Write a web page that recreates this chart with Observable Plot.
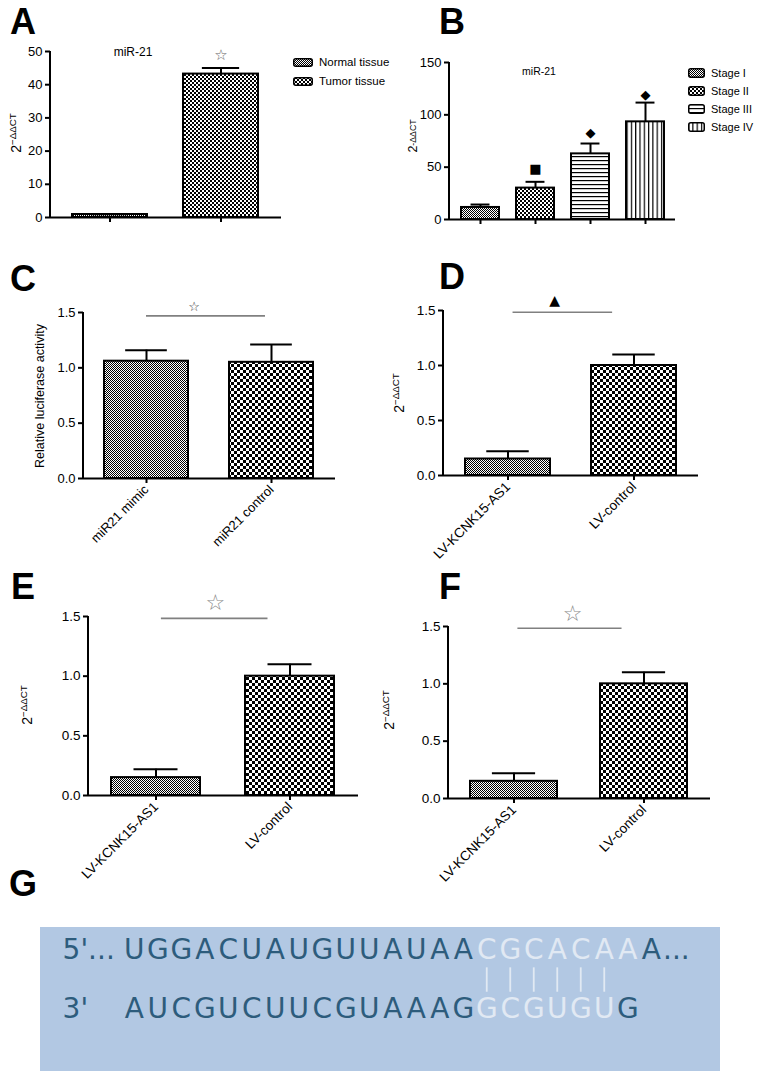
<!DOCTYPE html>
<html><head><meta charset="utf-8">
<script src="https://cdn.jsdelivr.net/npm/d3@7"></script>
<script src="https://cdn.jsdelivr.net/npm/@observablehq/plot@0.6"></script>
<style>
body{margin:0;background:#fff;}
#fig{position:relative;width:762px;height:1071px;overflow:hidden;font-family:"Liberation Sans",Arial,sans-serif;color:#000;}
.letter{position:absolute;font-weight:bold;font-size:36px;line-height:1.2;}
.lab{position:absolute;white-space:nowrap;line-height:1;transform:translate(-50%,-50%);}
.ylab{position:absolute;white-space:nowrap;line-height:1;transform:translate(-50%,-50%) rotate(-90deg);}
.ylab .sup{font-size:0.7em;position:relative;top:-0.5em;}
.ylab .sub{font-size:0.7em;position:relative;top:-0.1em;}
.leg{position:absolute;display:flex;align-items:center;white-space:nowrap;}
.leg svg{margin-right:6px;overflow:visible;}
#gbox{position:absolute;left:40px;top:927px;width:680px;height:144px;background:#b2c8e3;}
[aria-label^="x-axis"] line,[aria-label^="x-axis"] path,[aria-label^="y-axis"] line,[aria-label^="y-axis"] path{stroke-width:2px;}
</style>
</head>
<body>
<svg width="0" height="0" style="position:absolute">
<defs>
<pattern id="pGrey" patternUnits="userSpaceOnUse" width="2" height="2"><rect width="2" height="2" fill="#fff"/><rect width="1" height="1" fill="#000"/><rect x="1" y="1" width="1" height="1" fill="#000"/></pattern>
<pattern id="pCheck4" patternUnits="userSpaceOnUse" width="4" height="4"><rect width="4" height="4" fill="#000"/><rect width="2" height="2" fill="#fff"/><rect x="2" y="2" width="2" height="2" fill="#fff"/></pattern>
<pattern id="pCheck6" patternUnits="userSpaceOnUse" width="6" height="6"><rect width="6" height="6" fill="#000"/><rect width="3" height="3" fill="#fff"/><rect x="3" y="3" width="3" height="3" fill="#fff"/></pattern>
<pattern id="pHoriz" patternUnits="userSpaceOnUse" width="4" height="4"><rect width="4" height="4" fill="#fff"/><rect width="4" height="1.2" fill="#000"/></pattern>
<pattern id="pVert" patternUnits="userSpaceOnUse" width="4.3" height="4"><rect width="4.3" height="4" fill="#fff"/><rect width="1.2" height="4" fill="#000"/></pattern>
</defs>
</svg>
<div id="fig"><div id="gbox"></div></div>
<script>
// ---------------- DATA ----------------
// Panel A
const aCats = ["Normal tissue", "Tumor tissue"];
const aMeans = [0.9, 43.2];
const aUpper = [1.0, 45.0];
const aMarkCats = ["Tumor tissue"];
const aMarkY = [49];
const aMarkSym = ["☆"];
const aTicks = [0, 10, 20, 30, 40, 50];
// Panel B
const bCats = ["Stage I", "Stage II", "Stage III", "Stage IV"];
const bMeans = [11.5, 30, 62.7, 93.3];
const bUpper = [14.3, 36, 72.6, 111.7];
const bMarkCats = ["Stage II", "Stage III", "Stage IV"];
const bMarkY = [48, 83, 119];
const bMarkSym = ["■", "◆", "◆"];
const bTicks = [0, 50, 100, 150];
// Panel C
const cCats = ["miR21 mimic", "miR21 control"];
const cMeans = [1.06, 1.05];
const cUpper = [1.16, 1.21];
const cSigY = 1.465, cMarkY = 1.555, cMarkSym = "☆";
// Panel D
const dCats = ["LV-KCNK15-AS1", "LV-control"];
const dMeans = [0.15, 1.0];
const dUpper = [0.22, 1.1];
const dSigY = 1.48, dMarkY = 1.59, dMarkSym = "▲";
// Panel E
const eCats = ["LV-KCNK15-AS1", "LV-control"];
const eMeans = [0.15, 1.0];
const eUpper = [0.22, 1.1];
const eSigY = 1.48, eMarkY = 1.61, eMarkSym = "☆";
// Panel F
const fCats = ["LV-KCNK15-AS1", "LV-control"];
const fMeans = [0.15, 1.0];
const fUpper = [0.22, 1.1];
const fSigY = 1.48, fMarkY = 1.61, fMarkSym = "☆";
const relTicks = [0, 0.5, 1.0, 1.5];
// Panel G
const seq5 = "UGGACUAUGUUAUAACGCACAAA";
const seq3 = "AUCGUCUUCGUAAAGGCGUGUG";
const light5 = [15, 16, 17, 18, 19, 20, 21];
const light3 = [15, 16, 17, 18, 19, 20];
const pairIdx = [15, 16, 17, 18, 19, 20];
const prefix5 = "5'...", prefix3 = "3'", suffix5 = "...";

// ---------------- HELPERS ----------------
const fig = document.getElementById("fig");

function addDiv(cls, html, left, top, css) {
  const d = document.createElement("div");
  d.className = cls; d.innerHTML = html;
  d.style.left = left + "px"; d.style.top = top + "px";
  if (css) Object.assign(d.style, css);
  fig.appendChild(d);
  return d;
}

function barPanel(o) {
  const {box, ax} = o;
  const n = o.cats.length;
  const ml = ax.x0 - box.left, mr = box.left + box.width - ax.x1;
  const mt = ax.yTop - box.top, mb = box.top + box.height - ax.yBottom;
  const step = (ax.x1 - ax.x0) / (n - o.pi + 2 * o.po);
  const bw = step * (1 - o.pi);
  const rows = o.cats.map((c, i) => ({cat: c, m: o.means[i], u: o.upper[i]}));
  const marks = [];
  rows.forEach((r, i) => marks.push(Plot.barY([r], {x: "cat", y: "m", fill: `url(#${o.pats[i]})`, stroke: "#000", strokeWidth: 2})));
  marks.push(Plot.ruleX(rows, {x: "cat", y1: "m", y2: "u", stroke: "#000", strokeWidth: 2}));
  marks.push(Plot.tickY(rows, {x: "cat", y: "u", stroke: "#000", strokeWidth: 2, insetLeft: bw / 4, insetRight: bw / 4}));
  marks.push(Plot.ruleY([0], {stroke: "#000", strokeWidth: 2}));
  marks.push((index, scales, values, dims) =>
    d3.create("svg:line")
      .attr("x1", dims.marginLeft).attr("x2", dims.marginLeft)
      .attr("y1", scales.y(0) + 1).attr("y2", scales.y(o.ymax))
      .attr("stroke", "#000").attr("stroke-width", 2).node());
  if (o.sig) {
    marks.push((index, scales) => {
      const x = scales.x;
      const c0 = x(o.cats[0]) + x.bandwidth() / 2;
      const yy = scales.y(o.sig.y);
      return d3.create("svg:line")
        .attr("x1", c0 + o.sig.f0 * step).attr("x2", c0 + o.sig.f1 * step)
        .attr("y1", yy).attr("y2", yy)
        .attr("stroke", "#808080").attr("stroke-width", 1.6).node();
    });
  }
  if (o.markers) {
    marks.push(Plot.text(o.markers, {
      x: "cat", y: "y", text: "s", dx: (o.markDx || 0) * step,
      fontSize: o.markSize, fill: o.markColor, fontFamily: "DejaVu Sans"
    }));
  }
  const svg = Plot.plot({
    width: box.width, height: box.height,
    marginLeft: ml, marginRight: mr, marginTop: mt, marginBottom: mb,
    style: {position: "absolute", left: box.left + "px", top: box.top + "px", background: "transparent",
            overflow: "visible", fontFamily: "'Liberation Sans', Arial, sans-serif", fontSize: o.fontSize || "13px", color: "#000"},
    x: {domain: o.cats, paddingInner: o.pi, paddingOuter: o.po, align: 0.5, tickSize: 5, label: null,
        tickRotate: o.rotate || 0, tickFormat: o.xLabels ? (d) => d : () => "", tickPadding: 4},
    y: {domain: [0, o.ymax], ticks: o.yticks, tickFormat: o.fmt, tickSize: 5, label: null, tickPadding: 3},
    marks
  });
  fig.appendChild(svg);
}

const fmt1 = d3.format(".1f");

// ---------------- PANEL A ----------------
barPanel({
  cats: aCats, means: aMeans, upper: aUpper, pats: ["pGrey", "pCheck4"],
  ymax: 50, yticks: aTicks, fmt: d3.format("d"),
  box: {left: 0, top: 40, width: 390, height: 200}, ax: {x0: 50, x1: 281, yTop: 51, yBottom: 217},
  pi: 0.32, po: 0.2, xLabels: false,
  markers: aMarkCats.map((c, i) => ({cat: c, y: aMarkY[i], s: aMarkSym[i]})), markSize: 15, markColor: "#666"
});
// ---------------- PANEL B ----------------
barPanel({
  cats: bCats, means: bMeans, upper: bUpper, pats: ["pGrey", "pCheck4", "pHoriz", "pVert"],
  ymax: 150, yticks: bTicks, fmt: d3.format("d"),
  box: {left: 390, top: 40, width: 372, height: 200}, ax: {x0: 449, x1: 675, yTop: 62, yBottom: 219},
  pi: 0.31, po: 0.2, xLabels: false,
  markers: bMarkCats.map((c, i) => ({cat: c, y: bMarkY[i], s: bMarkSym[i]})), markSize: 13, markColor: "#000"
});
// ---------------- PANEL C ----------------
barPanel({
  cats: cCats, means: cMeans, upper: cUpper, pats: ["pGrey", "pCheck6"],
  ymax: 1.5, yticks: relTicks, fmt: fmt1,
  box: {left: 0, top: 280, width: 390, height: 290}, ax: {x0: 83, x1: 335, yTop: 312, yBottom: 478},
  pi: 0.324, po: 0.168, xLabels: true, rotate: -45,
  sig: {y: cSigY, f0: 0.0, f1: 0.95},
  markers: [{cat: cCats[0], y: cMarkY, s: cMarkSym}], markDx: 0.38, markSize: 13, markColor: "#333"
});
// ---------------- PANEL D ----------------
barPanel({
  cats: dCats, means: dMeans, upper: dUpper, pats: ["pGrey", "pCheck6"],
  ymax: 1.5, yticks: relTicks, fmt: fmt1,
  box: {left: 390, top: 280, width: 372, height: 290}, ax: {x0: 443, x1: 698, yTop: 310, yBottom: 475},
  pi: 0.325, po: 0.174, xLabels: true, rotate: -45, fontSize: "13.5px",
  sig: {y: dSigY, f0: 0.04, f1: 0.83},
  markers: [{cat: dCats[0], y: dMarkY, s: dMarkSym}], markDx: 0.37, markSize: 14, markColor: "#000"
});
// ---------------- PANEL E ----------------
barPanel({
  cats: eCats, means: eMeans, upper: eUpper, pats: ["pGrey", "pCheck6"],
  ymax: 1.5, yticks: relTicks, fmt: fmt1,
  box: {left: 0, top: 590, width: 390, height: 300}, ax: {x0: 88, x1: 358, yTop: 616, yBottom: 795},
  pi: 0.333, po: 0.167, xLabels: true, rotate: -45, fontSize: "13.5px",
  sig: {y: eSigY, f0: 0.04, f1: 0.83},
  markers: [{cat: eCats[0], y: eMarkY, s: eMarkSym}], markDx: 0.44, markSize: 22, markColor: "#8a8a8a"
});
// ---------------- PANEL F ----------------
barPanel({
  cats: fCats, means: fMeans, upper: fUpper, pats: ["pGrey", "pCheck6"],
  ymax: 1.5, yticks: relTicks, fmt: fmt1,
  box: {left: 390, top: 590, width: 372, height: 300}, ax: {x0: 448, x1: 710, yTop: 626, yBottom: 798},
  pi: 0.327, po: 0.17, xLabels: true, rotate: -45, fontSize: "13.5px",
  sig: {y: fSigY, f0: 0.03, f1: 0.83},
  markers: [{cat: fCats[0], y: fMarkY, s: fMarkSym}], markDx: 0.45, markSize: 22, markColor: "#8a8a8a"
});

// ---------------- PANEL G ----------------
{
  const dark = "#2d5c7c", light = "#e1e9f3";
  const r5 = seq5.split("").map((ch, i) => ({ch, i, row: 0, light: light5.includes(i)}));
  const r3 = seq3.split("").map((ch, i) => ({ch, i, row: 1, light: light3.includes(i)}));
  const all = r5.concat(r3);
  const txt = {fontSize: 28, fontFamily: "DejaVu Sans"};
  const svg = Plot.plot({
    width: 762, height: 171, margin: 0,
    style: {position: "absolute", left: "0px", top: "900px", background: "transparent", overflow: "visible"},
    x: {domain: [0, 22], range: [133.75, 650.75], axis: null},
    y: {domain: [0, 1], range: [49.5, 109], axis: null},
    marks: [
      Plot.ruleX(pairIdx, {x: (d) => d, y1: () => 0.3, y2: () => 0.71, stroke: light, strokeWidth: 1.8}),
      Plot.text(all.filter((d) => !d.light), {x: "i", y: "row", text: "ch", fill: dark, ...txt}),
      Plot.text(all.filter((d) => d.light), {x: "i", y: "row", text: "ch", fill: light, ...txt}),
      Plot.text([{t: prefix5, i: -3.05, row: 0}, {t: prefix3, i: -3.05, row: 1}],
        {x: "i", y: "row", text: "t", textAnchor: "start", fill: dark, ...txt}),
      Plot.text([{t: suffix5, i: 22.5, row: 0}], {x: "i", y: "row", text: "t", textAnchor: "start", fill: dark, ...txt})
    ]
  });
  fig.appendChild(svg);
}

// ---------------- ANNOTATIONS ----------------
// letter boxes: line-height 1.2 -> cap top sits ~8.3px below box top
addDiv("letter", "A", 10, 0);
addDiv("letter", "B", 439, 0);
addDiv("letter", "C", 10, 257);
addDiv("letter", "D", 439, 255);
addDiv("letter", "E", 11, 565);
addDiv("letter", "F", 439, 565);
addDiv("letter", "G", 9, 862);

addDiv("lab", "miR-21", 133, 52, {fontSize: "12px"});
addDiv("lab", "miR-21", 539, 71, {fontSize: "10.5px"});

addDiv("ylab", '2<span class="sup">−ΔΔCT</span>', 16, 133, {fontSize: "14px"});
addDiv("ylab", '2<span class="sub">-ΔΔCT</span>', 413, 136, {fontSize: "12.5px"});
addDiv("ylab", "Relative luciferase activity", 40, 396, {fontSize: "12.5px"});
addDiv("ylab", '2<span class="sup">−ΔΔCT</span>', 399, 393, {fontSize: "14px"});
addDiv("ylab", '2<span class="sup">−ΔΔCT</span>', 27, 705, {fontSize: "14px"});
addDiv("ylab", '2<span class="sup">−ΔΔCT</span>', 389, 710, {fontSize: "14px"});

function legend(cats, pats, left, top0, rowH, sw, sh, fs) {
  cats.forEach((c, i) => {
    const html = `<svg width="${sw}" height="${sh}"><rect x="0.75" y="0.75" width="${sw - 1.5}" height="${sh - 1.5}" rx="2" fill="url(#${pats[i]})" stroke="#000" stroke-width="1.5"/></svg><span>${c}</span>`;
    addDiv("leg", html, left, top0 + i * rowH - sh / 2, {fontSize: fs + "px", height: sh + "px"});
  });
}
legend(aCats, ["pGrey", "pCheck4"], 293, 62, 19, 20, 9, 11.5);
legend(bCats, ["pGrey", "pCheck4", "pHoriz", "pVert"], 688, 73, 18, 17, 10, 11);
</script>
</body></html>
